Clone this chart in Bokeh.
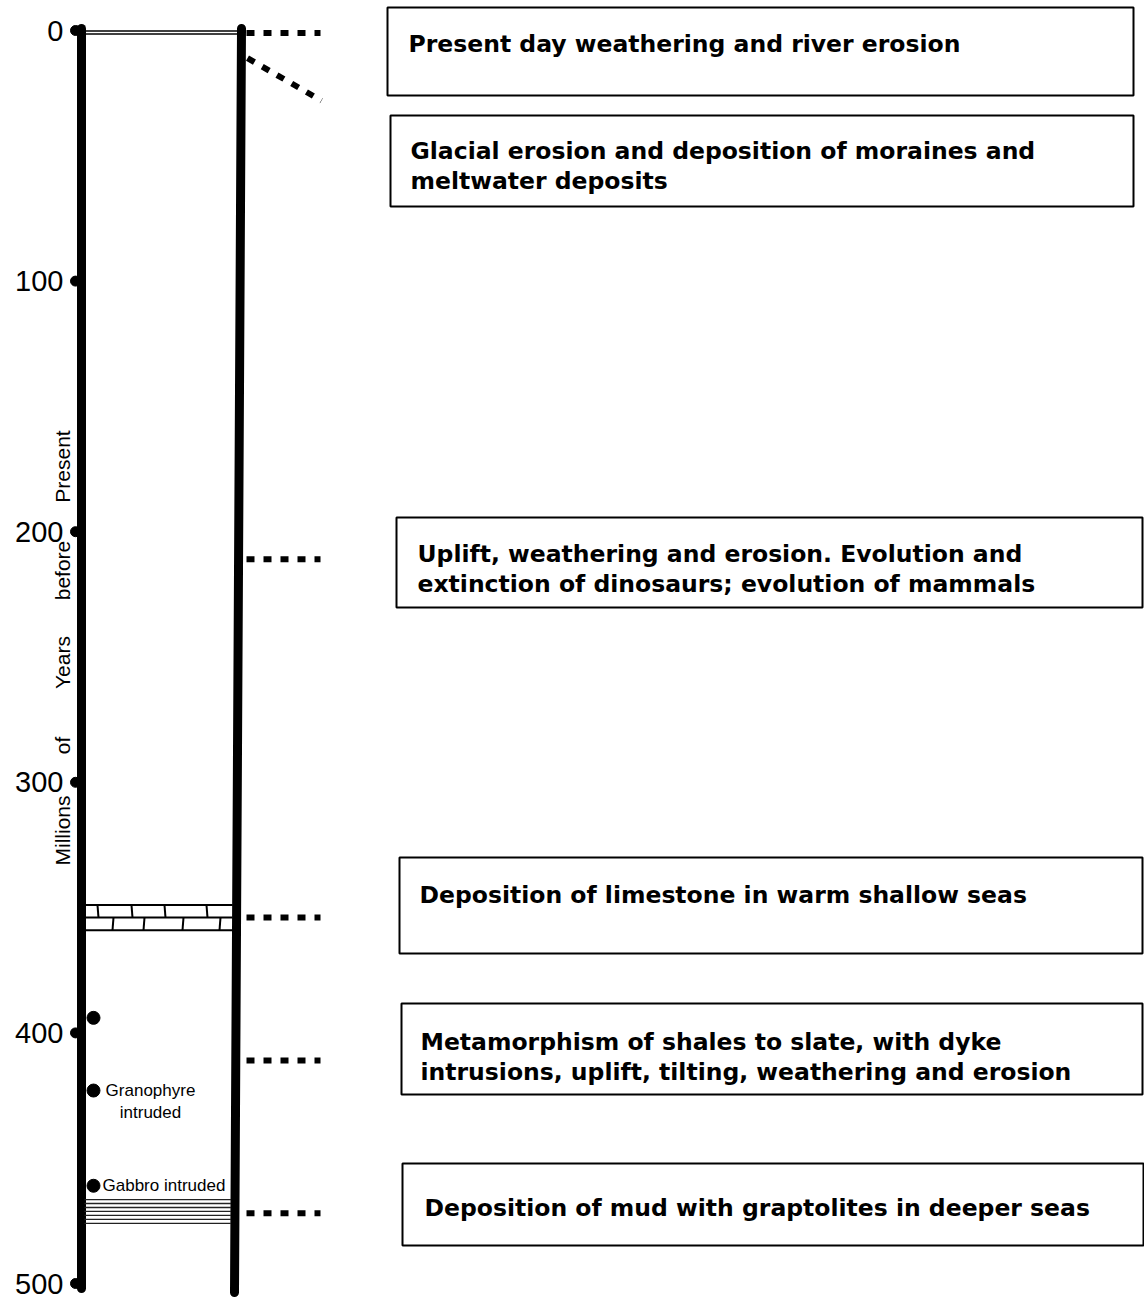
import math
from bokeh.plotting import figure
from bokeh.models import Range1d
from bokeh.core.properties import value
from bokeh.embed import file_html
from bokeh.resources import INLINE

# ---------------- data ----------------
tick_ma = [0, 100, 200, 300, 400, 500]
tick_labels = ["0", "100", "200", "300", "400", "500"]

axis_words = ["Millions", "of", "Years", "before", "Present"]

event_texts = [
    "Present day weathering and river erosion",
    "Glacial erosion and deposition of moraines and\nmeltwater deposits",
    "Uplift, weathering and erosion. Evolution and\nextinction of dinosaurs; evolution of mammals",
    "Deposition of limestone in warm shallow seas",
    "Metamorphism of shales to slate, with dyke\nintrusions, uplift, tilting, weathering and erosion",
    "Deposition of mud with graptolites in deeper seas",
]
# Ma marked by the dotted connector of each event (glacial one is a slanted line)
event_ma = [1, 211, 354, 411, 472]
glacial_ma = [11, 28]

intrusion_ma = [394, 423, 461]
intrusion_labels = ["", "Granophyre\nintruded", "Gabbro intruded"]

limestone_ma = [349, 354, 359]   # top, bed boundary, bottom
mud_ma = [466.5, 476]            # top, bottom

# ---------------- layout helpers ----------------
W, H = 1144, 1300
PX0, PXMA = 30.0, 2.506
def ma(px):
    return (px - PX0) / PXMA
def px(m):
    return PX0 + m * PXMA

def right_x(m):
    return 241 - 7 * (px(m) - 28) / 1264.0

FONT = value("Liberation Sans")
BOLD = value("DejaVu Sans")

p = figure(width=W, height=H, x_range=Range1d(0, W),
           y_range=Range1d(ma(H), ma(0)),
           x_axis_type=None, y_axis_type=None,
           output_backend="svg", toolbar_location=None, min_border=0)
p.grid.visible = False
p.outline_line_color = None
p.background_fill_color = "white"

# column outline
p.line([81, 81], [ma(28), ma(1288)], line_width=9, line_color="black", line_cap="round")
p.line([241, 234], [ma(28), ma(1292)], line_width=9, line_color="black", line_cap="round")
for yy in (30.5, 33.5):
    p.line([85, 238], [ma(yy), ma(yy)], line_width=1.3, line_color="black")

# ticks
p.scatter(x=[75] * len(tick_ma), y=tick_ma, size=10, color="black")
p.text(x=[63] * len(tick_ma), y=tick_ma, text=tick_labels, text_align="right",
       text_baseline="middle", text_font=FONT, text_font_size="29px", text_color="black")

# axis title words (justified along the column)
word_px = [830, 745, 662, 570, 466]
p.text(x=[62] * len(axis_words), y=[ma(v) for v in word_px], text=axis_words,
       angle=math.pi / 2, text_align="center", text_baseline="middle",
       text_font=FONT, text_font_size="21px", text_color="black")

# limestone beds
lx0 = 84
for m in limestone_ma:
    p.line([lx0, right_x(m) - 4], [m, m], line_width=2, line_color="black")
top_joints = [97, 131, 164, 206]
bot_joints = [113, 144, 183, 220]
p.segment(x0=top_joints, x1=[x + 1 for x in top_joints],
          y0=[limestone_ma[0]] * 4, y1=[limestone_ma[1]] * 4, line_width=2, line_color="black")
p.segment(x0=bot_joints, x1=[x - 1 for x in bot_joints],
          y0=[limestone_ma[1]] * 4, y1=[limestone_ma[2]] * 4, line_width=2, line_color="black")

# mud / shale laminae
n_lam = 7
for i in range(n_lam):
    m = mud_ma[0] + (mud_ma[1] - mud_ma[0]) * i / (n_lam - 1)
    p.line([84, right_x(m) - 4], [m, m], line_width=1.3, line_color="#222222")

# intrusions
p.scatter(x=[93] * len(intrusion_ma), y=intrusion_ma, size=13, color="black")
for m, lab in zip(intrusion_ma, intrusion_labels):
    if not lab:
        continue
    lines = lab.split("\n")
    if len(lines) > 1:
        for i, ln in enumerate(lines):
            p.text(x=[150], y=[ma(px(m) + 22 * i)], text=[ln], text_align="center",
                   text_baseline="middle", text_font=FONT, text_font_size="17px",
                   text_color="black")
    else:
        p.text(x=[102], y=[m], text=[lines[0]], text_align="left",
               text_baseline="middle", text_font=FONT, text_font_size="17px",
               text_color="black")

# dotted connectors
p.segment(x0=[246] * len(event_ma), x1=[320] * len(event_ma), y0=event_ma, y1=event_ma,
          line_width=6, line_color="black", line_dash="8 9")
p.segment(x0=[247], y0=[glacial_ma[0]], x1=[321], y1=[glacial_ma[1]],
          line_width=6, line_color="black", line_dash="8 9")

# event boxes
box_left = [387, 390, 396, 399, 401, 402]
box_right = [1133, 1133, 1142, 1142, 1142, 1143]
box_top = [7, 115, 517, 857, 1003, 1163]
box_bottom = [95, 206, 607, 953, 1094, 1245]
text_x = [408, 410, 417, 419, 420, 424]
text_base = [43, 150, 553, 894, 1041, 1207]
p.quad(left=box_left, right=box_right, top=[ma(v) for v in box_top],
       bottom=[ma(v) for v in box_bottom], fill_color=None, line_color="black", line_width=2)
for txt, tx, tb in zip(event_texts, text_x, text_base):
    for i, ln in enumerate(txt.split("\n")):
        p.text(x=[tx], y=[ma(tb + 30 * i)], text=[ln], text_align="left",
               text_baseline="alphabetic", text_font=BOLD, text_font_style="bold",
               text_font_size="23.5px", text_color="black")

open("out.html", "w").write(file_html(p, INLINE))
